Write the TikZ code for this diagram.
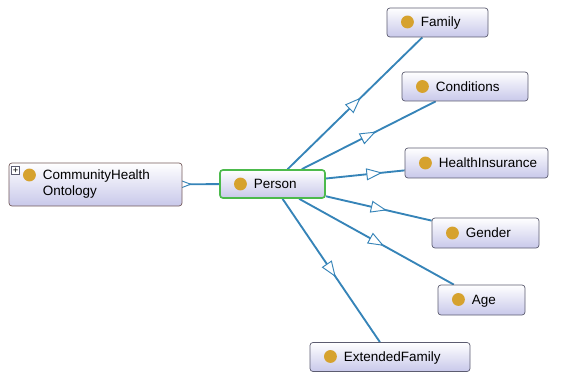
\documentclass[tikz,border=0pt]{standalone}
\usepackage{fontspec}
\setmainfont{Liberation Sans}
\definecolor{edgeblue}{RGB}{54,132,184}
\definecolor{boxline}{RGB}{92,92,112}
\definecolor{chobrown}{RGB}{118,92,92}
\definecolor{boxfill}{RGB}{200,200,234}
\definecolor{ballgold}{RGB}{214,162,46}
\definecolor{selgreen}{RGB}{76,186,76}
\usetikzlibrary{arrows.meta,positioning,decorations.markings,backgrounds}

\newcommand{\ballmark}{\tikz[baseline=-4pt]\fill[ballgold] (0,0) circle (5.5pt);\hspace{6pt}}

\begin{document}
\begin{tikzpicture}[x=0.03cm, y=-0.03cm,
      owlclass/.style={draw=boxline, line width=0.6pt, rounded corners=2.5pt,
        top color=white, bottom color=boxfill, inner xsep=0.42cm, inner ysep=0pt,
        align=left, font=\fontsize{11.5}{13.7}\selectfont, minimum height=0.87cm},
      sel/.style={draw=selgreen, line width=1.4pt},
      toggle/.style={draw=boxline, fill=white, line width=0.4pt, inner sep=0pt,
        minimum size=0.24cm, font=\fontsize{8}{8}\selectfont},
      isa/.style={draw=edgeblue, line width=1.6pt},
      isatip/.style={color=edgeblue, postaction={decorate},
        decoration={markings, mark=at position 0.5 with {\pgftransformxshift{6.8pt}
          \arrow{Triangle[fill=white, length=13.7pt, width=10.2pt, line width=0.8pt]}}}},
    ]
    \useasboundingbox (0,0) rectangle (564,372);

    \node[owlclass, sel, text width=2.31cm, minimum height=0.84cm]
      (person) at (272.5,184) {\ballmark Person};
    \node[owlclass, draw=chobrown, text width=4.35cm, minimum height=1.29cm]
      (cho) at (95.5,184.5) {\ballmark\begin{tabular}[t]{@{}l@{}}CommunityHealth\\Ontology\end{tabular}};
    \node[toggle] (chotoggle) at (15.5,170.5) {+};

    \node[owlclass, text width=2.19cm] (family) at (437.5,22.5) {\ballmark Family};
    \node[owlclass, text width=2.94cm] (conditions) at (465,86.5) {\ballmark Conditions};
    \node[owlclass, text width=3.45cm, minimum height=0.9cm]
      (insurance) at (476.5,163) {\mbox{\ballmark HealthInsurance}};
    \node[owlclass, text width=2.37cm, minimum height=0.9cm]
      (gender) at (485.5,233) {\ballmark Gender};
    \node[owlclass, text width=1.77cm, minimum height=0.9cm]
      (age) at (481.5,300) {\ballmark Age};
    \node[owlclass, text width=3.96cm] (extended) at (390,357) {\ballmark ExtendedFamily};

    \begin{pgfonlayer}{background}
      \draw[isa] (cho) -- (person);
      \path[isatip] (cho.center) -- (person.center);
      \foreach \sub in {family,conditions,insurance,gender,age,extended} {
        \draw[isa] (person) -- (\sub);
        \path[isatip] (person.center) -- (\sub.center);
      }
    \end{pgfonlayer}
  \end{tikzpicture}
\end{document}
